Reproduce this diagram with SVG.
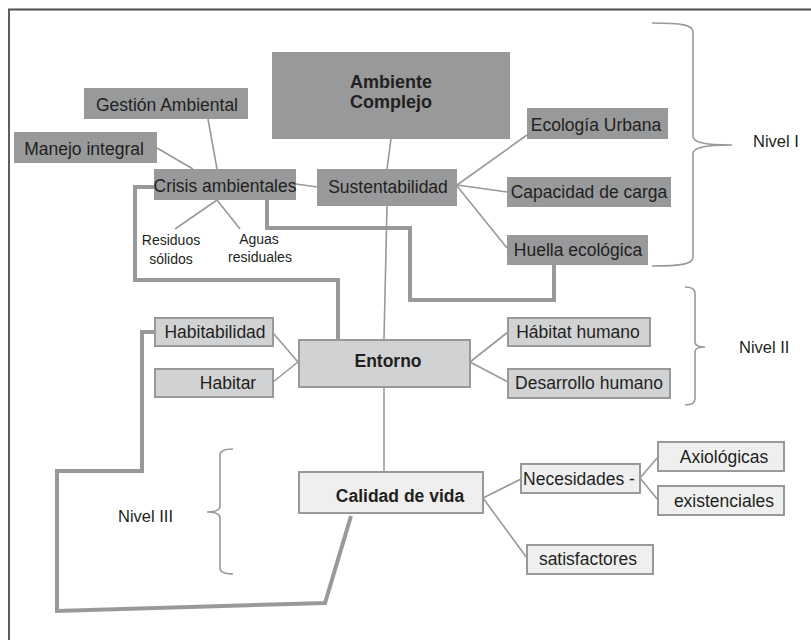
<svg xmlns="http://www.w3.org/2000/svg" width="811" height="640" viewBox="0 0 811 640">
<style>
text{font-family:"Liberation Sans",Arial,sans-serif;font-size:17.5px;fill:#231f20;text-anchor:middle}
.b{font-weight:bold}
.a{font-size:18px}
.s{font-size:14px}
.lv{font-size:16.5px;text-anchor:start}
.dk{fill:#98999b;stroke:none}
.md{fill:#d1d2d4;stroke:#98999b;stroke-width:2}
.lt{fill:#efeff0;stroke:#98999b;stroke-width:2}
.c{stroke:#98999b;stroke-width:1.6;fill:none}
.t{stroke:#98999b;stroke-width:4;fill:none;stroke-linejoin:miter}
.br{stroke:#98999b;stroke-width:1.6;fill:none}
</style>
<rect width="811" height="640" fill="#fff"/>
<path d="M9,640 V9.5 H811" stroke="#4d4d4f" stroke-width="1.8" fill="none"/>
<g id="connectors">
<line class="c" x1="208" y1="119" x2="217" y2="169"/>
<line class="c" x1="157" y1="148" x2="193" y2="169"/>
<line class="c" x1="296" y1="184" x2="317" y2="187"/>
<line class="c" x1="217" y1="200" x2="175" y2="229"/>
<line class="c" x1="217" y1="200" x2="240" y2="229"/>
<line class="c" x1="391" y1="139" x2="387" y2="169"/>
<line class="c" x1="387" y1="206" x2="384" y2="339"/>
<line class="c" x1="384" y1="387" x2="384" y2="471"/>
<line class="c" x1="457" y1="185" x2="527" y2="135"/>
<line class="c" x1="457" y1="185" x2="507" y2="192"/>
<line class="c" x1="457" y1="186" x2="507" y2="248"/>
<line class="c" x1="273" y1="333" x2="298" y2="362"/>
<line class="c" x1="273" y1="382" x2="298" y2="362"/>
<line class="c" x1="470" y1="362" x2="508" y2="332"/>
<line class="c" x1="470" y1="362" x2="508" y2="382"/>
<line class="c" x1="483" y1="498" x2="521" y2="479"/>
<line class="c" x1="483" y1="498" x2="527" y2="558"/>
<line class="c" x1="640" y1="478" x2="658" y2="457"/>
<line class="c" x1="640" y1="478" x2="658" y2="500"/>
<polyline class="t" points="154,187 135,187 135,280 338,280 338,339"/>
<polyline class="t" points="267,200 267,228 410,228 410,300 554,300 554,265"/>
<polyline class="t" points="154,332 142,332 142,471 57,471 57,611 325,603 351,516"/>
<path class="br" d="M652,23 C682,23 693,25 693,32 L693,136 C693,142 702,145 732,145 C702,145 693,148 693,154 L693,257 C693,264 682,266 652,266"/>
<path class="br" d="M685,287 Q695,287 695,293 L695,342 Q695,347 705,347 Q695,347 695,352 L695,399 Q695,405 685,405"/>
<path class="br" d="M233,449 Q220,449 220,455 L220,506 Q220,512 207,512 Q220,512 220,518 L220,568 Q220,574 233,574"/>
</g>
<g id="ambiente"><rect class="dk" x="272" y="52" width="238" height="87"/><text class="b a" x="391" y="88">Ambiente</text><text class="b a" x="391" y="108">Complejo</text></g>
<g id="gestion"><rect class="dk" x="84" y="88" width="164" height="31"/><text x="167" y="111">Gestión Ambiental</text></g>
<g id="manejo"><rect class="dk" x="14" y="132" width="143" height="31"/><text x="84" y="155">Manejo integral</text></g>
<g id="crisis"><rect class="dk" x="154" y="169" width="142" height="31"/><text x="225" y="192">Crisis ambientales</text></g>
<g id="sustentabilidad"><rect class="dk" x="317" y="169" width="140" height="37"/><text x="388" y="193">Sustentabilidad</text></g>
<g id="ecologia"><rect class="dk" x="527" y="108" width="141" height="31"/><text x="596" y="131">Ecología Urbana</text></g>
<g id="capacidad"><rect class="dk" x="507" y="177" width="164" height="30"/><text x="589" y="198">Capacidad de carga</text></g>
<g id="huella"><rect class="dk" x="507" y="235" width="141" height="30"/><text x="578" y="256">Huella ecológica</text></g>
<g id="residuos"><text class="s" x="171" y="245">Residuos</text><text class="s" x="171" y="264">sólidos</text></g>
<g id="aguas"><text class="s" x="259" y="244">Aguas</text><text class="s" x="260" y="262">residuales</text></g>
<g id="habitabilidad"><rect class="md" x="155" y="318" width="118" height="28"/><text x="215" y="338">Habitabilidad</text></g>
<g id="habitar"><rect class="md" x="155" y="369" width="118" height="28"/><text x="228" y="389">Habitar</text></g>
<g id="entorno"><rect class="md" x="299" y="340" width="171" height="47"/><text class="b" x="388" y="367">Entorno</text></g>
<g id="habitat"><rect class="md" x="508" y="318" width="142" height="28"/><text x="578" y="338">Hábitat humano</text></g>
<g id="desarrollo"><rect class="md" x="508" y="369" width="162" height="29"/><text x="589" y="389">Desarrollo humano</text></g>
<g id="calidad"><rect class="lt" x="299" y="472" width="184" height="41"/><text class="b" x="400" y="502">Calidad de vida</text></g>
<g id="necesidades"><rect class="lt" x="521" y="464" width="119" height="29"/><text x="579" y="485">Necesidades -</text></g>
<g id="axiologicas"><rect class="lt" x="658" y="442" width="126" height="29"/><text x="724" y="463">Axiológicas</text></g>
<g id="existenciales"><rect class="lt" x="658" y="486" width="126" height="29"/><text x="724" y="507">existenciales</text></g>
<g id="satisfactores"><rect class="lt" x="527" y="545" width="126" height="29"/><text x="588" y="565">satisfactores</text></g>
<g id="niveles"><text class="lv" x="753" y="147">Nivel I</text><text class="lv" x="739" y="353">Nivel II</text><text class="lv" x="118" y="522">Nivel III</text></g>
</svg>
